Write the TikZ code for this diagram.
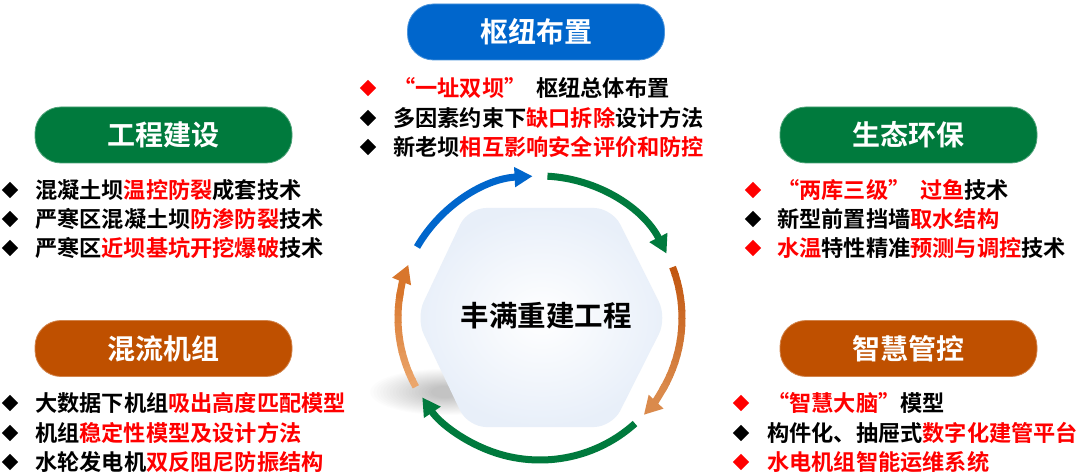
\documentclass[tikz,border=0pt]{standalone}
\usepackage{fontspec}
\setmainfont{Noto Sans CJK SC Bold}
\usetikzlibrary{arrows.meta,shapes.geometric}
\definecolor{cblue}{HTML}{0066CC}
\definecolor{cgreen}{HTML}{007A3D}
\definecolor{corange}{HTML}{BF5000}
\definecolor{cred}{HTML}{FF0000}
\definecolor{oA}{HTML}{C25710}
\definecolor{oB}{HTML}{DA8A4C}
\definecolor{oC}{HTML}{EBA66C}
\definecolor{oD}{HTML}{D8762C}
\definecolor{hexout}{HTML}{E8EFF9}
\newcommand\myql{\makebox[1em][r]{“}}
\newcommand\myqr{\makebox[1em][l]{”}}
\newcommand\rd[1]{\textcolor{cred}{#1}}
\begin{document}
\begin{tikzpicture}[x=1pt,y=1pt,
  hdr/.style={rounded corners=26pt, minimum width=257pt, minimum height=56pt,
    text=white, font=\fontsize{28}{30}\selectfont, inner sep=0pt, draw=#1!70!white, line width=0.8pt, fill=#1},
  item/.style={anchor=west, inner sep=0pt, font=\fontsize{22.2}{26}\selectfont},
  bul/.style={diamond, aspect=1, minimum width=16.5pt, minimum height=16.5pt, inner sep=0pt, fill=#1},
  bul/.default=black,
  ring/.style={line width=7pt, line cap=butt},
  tip/.style={-{Triangle[length=18pt,width=19pt]}}
]
\useasboundingbox (0,0) rectangle (1080,-476);
\fill[white] (0,0) rectangle (1080,-476);

% soft shadow lower-left of hexagon
\foreach \k in {1,...,20}{
  \fill[black, opacity=0.012] (445,-392) ellipse[x radius={(78-3.2*\k)*1pt}, y radius={(24-0.9*\k)*1pt}];
}

% hexagon
\path[shading=radial, inner color=white, outer color=hexout, rounded corners=18pt]
  (416,-318) -- (468,-208) -- (612,-208) -- (667,-318) -- (612,-427) -- (468,-427) -- cycle;
\node[font=\fontsize{28.5}{32}\selectfont, inner sep=0pt] (ctr) at (546,-316) {丰满重建工程};

% ring arrows
\coordinate (o) at (540,-318);
\draw[ring, cblue, tip] ([shift={(150:142pt)}]o) arc[start angle=150, end angle=93, radius=142pt];
\draw[ring, cgreen, tip] ([shift={(87:142pt)}]o) arc[start angle=87, end angle=27, radius=142pt];
\draw[ring, cgreen, tip] ([shift={(-48:142pt)}]o) arc[start angle=-48, end angle=-146, radius=142pt];
% right orange gradient
\foreach \i in {0,...,16}{
  \pgfmathsetmacro\sa{21-\i*3}
  \pgfmathsetmacro\ea{21-(\i+1)*3-0.4}
  \pgfmathsetmacro\pp{100-\i*6}
  \draw[ring, draw=oA!\pp!oB] ([shift={(\sa:142pt)}]o) arc[start angle=\sa, end angle=\ea, radius=142pt];
}
\draw[ring, oB, tip] ([shift={(-28:142pt)}]o) arc[start angle=-28, end angle=-43, radius=142pt];
% left orange gradient
\foreach \i in {0,...,12}{
  \pgfmathsetmacro\sa{209-\i*3}
  \pgfmathsetmacro\ea{209-(\i+1)*3-0.4}
  \pgfmathsetmacro\pp{100-\i*7.5}
  \draw[ring, draw=oC!\pp!oD] ([shift={(\sa:142pt)}]o) arc[start angle=\sa, end angle=\ea, radius=142pt];
}
\draw[ring, oD, tip] ([shift={(172:142pt)}]o) arc[start angle=172, end angle=158, radius=142pt];

% headers
\node[hdr=cblue] (h1) at (536,-32) {枢纽布置};
\node[hdr=cgreen] (h2) at (163.5,-135) {工程建设};
\node[hdr=corange] (h3) at (163.5,-348.5) {混流机组};
\node[hdr=cgreen] (h4) at (908.5,-135) {生态环保};
\node[hdr=corange] (h5) at (908.5,-348.5) {智慧管控};

% top list
\node[bul=cred] (b1a) at (368,-88) {};
\node[item] (t1a) at (393,-88) {\rd{\myql 一址双坝\myqr}\hspace{0.45em}枢纽总体布置};
\node[bul] (b1b) at (368,-118) {};
\node[item] (t1b) at (393,-118) {多因素约束下\rd{缺口拆除}设计方法};
\node[bul] (b1c) at (368,-147) {};
\node[item] (t1c) at (393,-147) {新老坝\rd{相互影响安全评价和防控}};

% left top list
\node[bul] (b2a) at (10,-190) {};
\node[item] (t2a) at (35,-190) {混凝土坝\rd{温控防裂}成套技术};
\node[bul] (b2b) at (10,-219) {};
\node[item] (t2b) at (35,-219) {严寒区混凝土坝\rd{防渗防裂}技术};
\node[bul] (b2c) at (10,-248) {};
\node[item] (t2c) at (35,-248) {严寒区\rd{近坝基坑开挖爆破}技术};

% left bottom list
\node[bul] (b3a) at (10,-403) {};
\node[item] (t3a) at (35,-403) {大数据下机组\rd{吸出高度匹配模型}};
\node[bul] (b3b) at (10,-433) {};
\node[item] (t3b) at (35,-433) {机组\rd{稳定性模型及设计方法}};
\node[bul] (b3c) at (10,-462) {};
\node[item] (t3c) at (35,-462) {水轮发电机\rd{双反阻尼防振结构}};

% right top list
\node[bul=cred] (b4a) at (753,-190) {};
\node[item] (t4a) at (777,-190) {\rd{\myql 两库三级\myqr\hspace{0.45em}过鱼}技术};
\node[bul] (b4b) at (753,-219) {};
\node[item] (t4b) at (777,-219) {新型前置挡墙\rd{取水结构}};
\node[bul=cred] (b4c) at (753,-248) {};
\node[item] (t4c) at (777,-248) {\rd{水温}特性精准\rd{预测与调控}技术};

% right bottom list
\node[bul=cred] (b5a) at (741,-403) {};
\node[item] (t5a) at (767,-403) {\rd{\myql 智慧大脑\myqr}模型};
\node[bul] (b5b) at (741,-433) {};
\node[item] (t5b) at (767,-433) {构件化、抽屉式\rd{数字化建管平台}};
\node[bul=cred] (b5c) at (741,-462) {};
\node[item] (t5c) at (767,-462) {\rd{水电机组智能运维系统}};
\end{tikzpicture}
\end{document}
